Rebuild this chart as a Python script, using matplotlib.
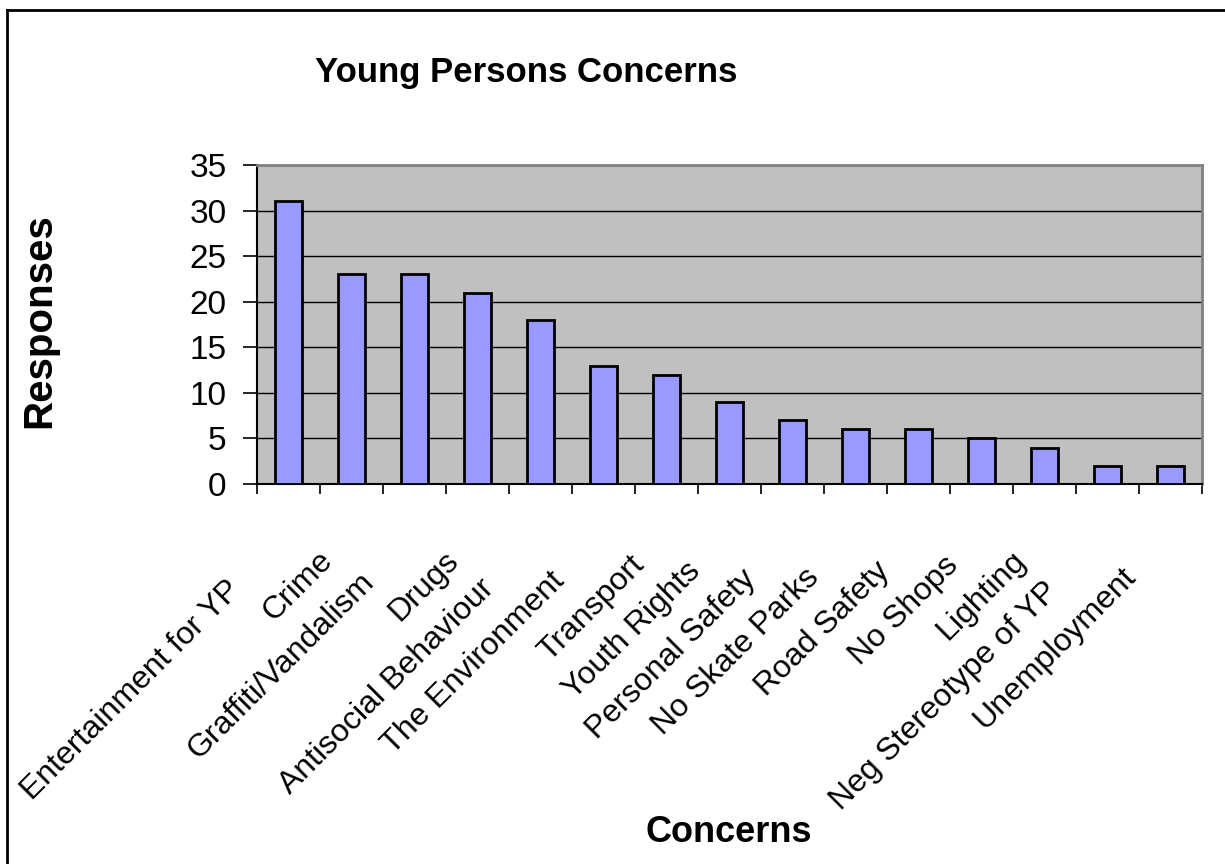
import numpy as np
import matplotlib
matplotlib.use('Agg')
import matplotlib.pyplot as plt
import matplotlib.transforms as mtransforms

concerns = ['Entertainment for YP', 'Crime', 'Graffiti/Vandalism', 'Drugs',
            'Antisocial Behaviour', 'The Environment', 'Transport', 'Youth Rights',
            'Personal Safety', 'No Skate Parks', 'Road Safety', 'No Shops',
            'Lighting', 'Neg Stereotype of YP', 'Unemployment']
responses = [31, 23, 23, 21, 18, 13, 12, 9, 7, 6, 6, 5, 4, 2, 2]
y_ticks = [0, 5, 10, 15, 20, 25, 30, 35]

plt.rcParams['font.family'] = ['Liberation Sans', 'DejaVu Sans']

fig = plt.figure(figsize=(12.25, 8.64), dpi=100)
ax = fig.add_axes([257 / 1225, 1 - 484 / 864, 945 / 1225, 319 / 864])

x = np.arange(len(concerns))
ax.bar(x, responses, width=0.42, color='#9999FF', edgecolor='black', linewidth=2.0, zorder=3)

ax.set_facecolor('#C0C0C0')
ax.set_xlim(-0.5, len(concerns) - 0.5)
ax.set_ylim(0, 35)
ax.set_yticks(y_ticks)
ax.set_yticklabels([str(v) for v in y_ticks], fontsize=24)
ax.grid(axis='y', color='black', linewidth=1.0, zorder=1)

# ticks sit between categories, like the spreadsheet chart
ax.set_xticks(np.arange(-0.5, len(concerns)))
ax.set_xticklabels([])
ax.tick_params(axis='x', direction='out', length=7, width=1.2, color='black')
ax.tick_params(axis='y', direction='out', length=10, width=1.2, color='black', pad=12)

for side in ['top', 'right']:
    ax.spines[side].set_color('#808080')
    ax.spines[side].set_linewidth(2)
for side in ['left', 'bottom']:
    ax.spines[side].set_color('black')
    ax.spines[side].set_linewidth(1.5)

# rotated category labels; longer ones slide further down-left like in Excel
renderer = fig.canvas.get_renderer()
for i, name in enumerate(concerns):
    probe = ax.text(0, 0, name, fontsize=23)
    length = probe.get_window_extent(renderer).width
    probe.remove()
    slide = 0.22 * max(0, length - 110) / np.sqrt(2)
    offset = mtransforms.offset_copy(ax.get_xaxis_transform(), fig=fig,
                                     x=-23 - slide, y=-72 - slide, units='dots')
    ax.text(i, 0, name, transform=offset, rotation=45, rotation_mode='anchor',
            ha='right', va='center', fontsize=23)

fig.text(526 / 1225, 1 - 82 / 864, 'Young Persons Concerns', fontsize=25,
         fontweight='bold', ha='center', va='baseline')
fig.text(39 / 1225, 1 - 321 / 864, 'Responses', fontsize=29, fontweight='bold',
         rotation=90, ha='center', va='center')
fig.text(729 / 1225, 1 - 833 / 864, 'Concerns', fontsize=26, fontweight='bold',
         ha='center', va='center')

# chart border (only top and left edges show in the image)
fig.add_artist(plt.Line2D([7 / 1225, 1], [1 - 10 / 864, 1 - 10 / 864], color='black', linewidth=2))
fig.add_artist(plt.Line2D([7 / 1225, 7 / 1225], [0, 1 - 10 / 864], color='black', linewidth=2))

plt.savefig('out.png', dpi=100)
